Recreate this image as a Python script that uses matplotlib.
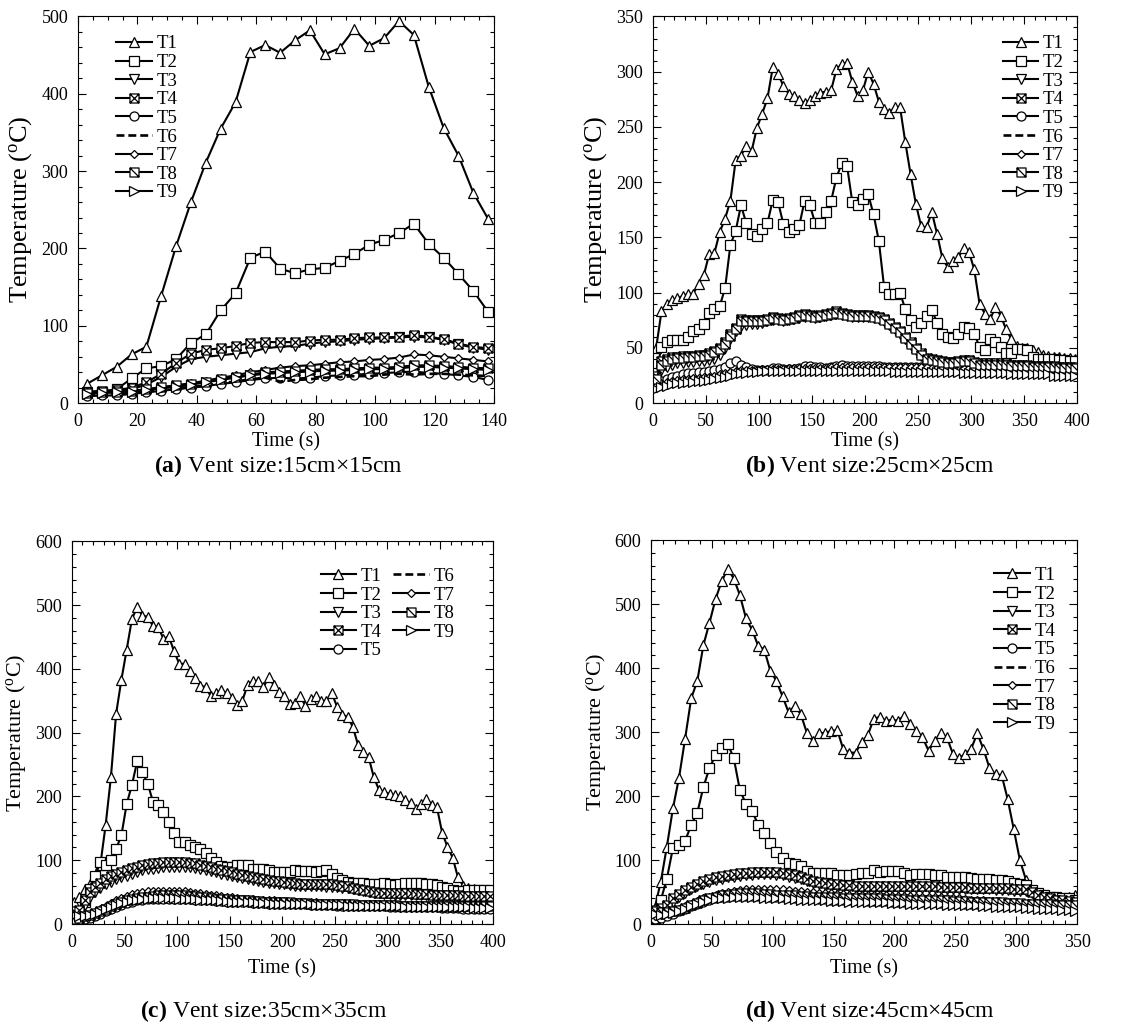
import numpy as np
import matplotlib
matplotlib.use('Agg')
import matplotlib.pyplot as plt
from matplotlib.path import Path
from matplotlib.ticker import MultipleLocator

plt.rcParams['font.family'] = ['Liberation Serif', 'DejaVu Serif']
plt.rcParams['mathtext.fontset'] = 'custom'
plt.rcParams['mathtext.rm'] = 'Liberation Serif'
plt.rcParams['mathtext.it'] = 'Liberation Serif:italic'
plt.rcParams['mathtext.bf'] = 'Liberation Serif:bold'

labels = ['T1', 'T2', 'T3', 'T4', 'T5', 'T6', 'T7', 'T8', 'T9']

# ---------------- (a) vent 15cm x 15cm ----------------
time_a = np.arange(3, 139, 5)
a_T1 = [25, 36, 47, 63, 73, 139, 203, 260, 311, 355, 389, 454, 463, 453, 469, 482, 451, 459, 484, 462,
        472, 494, 476, 409, 356, 320, 272, 238]
a_T2 = [13, 15, 18, 32, 45, 48, 57, 78, 89, 120, 142, 188, 196, 174, 168, 173, 175, 184, 193, 205,
        211, 220, 232, 206, 188, 167, 145, 118]
a_T3 = [14, 15, 16, 18, 24, 34, 47, 57, 60, 62, 64, 66, 71, 73, 74, 77, 79, 80, 82, 83,
        84, 85, 86, 85, 82, 76, 72, 69]
a_T4 = [15, 16, 17, 20, 27, 38, 52, 64, 69, 71, 74, 78, 79, 79, 79, 81, 82, 82, 84, 85,
        85, 86, 88, 86, 83, 77, 73, 71]
a_T5 = [9, 10, 10, 12, 14, 16, 18, 20, 22, 25, 27, 30, 32, 33, 32, 33, 35, 36, 37, 38,
        39, 40, 41, 39, 38, 36, 34, 30]
a_T6 = [12, 12, 13, 14, 15, 17, 19, 21, 23, 26, 28, 31, 33, 28, 30, 31, 33, 34, 35, 35,
        37, 38, 37, 38, 38, 37, 36, 35]
a_T7 = [14, 14, 15, 16, 18, 20, 23, 26, 29, 33, 36, 40, 43, 46, 48, 49, 51, 53, 54, 56,
        57, 59, 63, 62, 60, 58, 56, 54]
a_T8 = [13, 14, 15, 16, 18, 21, 23, 25, 28, 31, 34, 37, 40, 41, 42, 43, 44, 44, 45, 46,
        46, 47, 49, 49, 48, 47, 46, 45]
a_T9 = [12, 13, 14, 15, 17, 19, 21, 24, 27, 30, 33, 36, 38, 39, 40, 41, 42, 42, 43, 44,
        44, 45, 47, 47, 46, 45, 44, 43]

# ---------------- (b) vent 25cm x 25cm ----------------
time_b = np.arange(3, 399, 5)
b_T1 = [50, 83, 90, 93, 95, 97, 99, 99, 108, 116,
        135, 136, 155, 167, 183, 220, 224, 233, 228, 249,
        262, 276, 304, 298, 287, 280, 278, 274, 272, 274,
        278, 281, 282, 283, 302, 307, 308, 291, 278, 283,
        300, 289, 273, 266, 263, 268, 268, 236, 207, 180,
        160, 159, 173, 153, 131, 123, 129, 132, 140, 137,
        121, 90, 81, 76, 87, 79, 67, 58, 52, 50,
        50, 48, 46, 44, 43, 42, 42, 41, 41, 40]
b_T2 = [27, 51, 55, 57, 57, 57, 60, 65, 67, 72,
        82, 85, 88, 104, 143, 156, 179, 163, 153, 151,
        158, 163, 184, 182, 162, 155, 158, 161, 183, 179,
        163, 163, 173, 183, 204, 217, 215, 182, 179, 185,
        189, 171, 147, 105, 99, 99, 100, 85, 75, 69,
        73, 79, 84, 73, 63, 60, 59, 63, 69, 68,
        63, 51, 48, 58, 55, 51, 45, 45, 49, 49,
        48, 42, 40, 40, 40, 40, 39, 39, 38, 38]
b_T3 = [20, 30, 33, 35, 36, 36, 37, 37, 38, 38,
        39, 40, 44, 50, 58, 65, 70, 71, 72, 72,
        73, 74, 75, 75, 74, 75, 76, 77, 78, 78,
        77, 78, 79, 80, 81, 80, 79, 78, 78, 78,
        78, 77, 76, 74, 71, 67, 63, 58, 53, 48,
        43, 40, 38, 37, 36, 36, 36, 37, 38, 38,
        36, 35, 35, 35, 35, 34, 34, 34, 34, 33,
        33, 33, 33, 32, 32, 32, 32, 32, 31, 31]
b_T4 = [25, 38, 40, 42, 42, 43, 43, 43, 44, 44,
        45, 47, 50, 55, 63, 68, 76, 75, 75, 75,
        75, 76, 78, 77, 76, 77, 78, 80, 81, 80,
        79, 80, 81, 82, 83, 82, 81, 80, 80, 80,
        80, 79, 78, 76, 73, 69, 65, 60, 55, 50,
        45, 41, 40, 39, 38, 37, 37, 38, 39, 39,
        37, 36, 36, 36, 36, 36, 36, 35, 35, 35,
        35, 34, 34, 34, 34, 34, 33, 33, 33, 33]
b_T5 = [18, 20, 22, 24, 25, 26, 27, 27, 28, 28,
        29, 30, 31, 33, 36, 38, 35, 33, 31, 30,
        30, 30, 32, 32, 31, 31, 31, 32, 34, 34,
        33, 33, 32, 33, 34, 35, 34, 34, 34, 34,
        34, 34, 34, 33, 33, 33, 33, 33, 33, 33,
        33, 33, 33, 33, 33, 33, 33, 33, 33, 33,
        33, 32, 32, 32, 32, 32, 32, 32, 32, 32,
        32, 32, 31, 31, 31, 31, 31, 30, 30, 30]
b_T6 = [15, 17, 18, 19, 20, 21, 21, 22, 22, 23,
        23, 24, 25, 26, 27, 28, 28, 29, 29, 29,
        29, 30, 30, 30, 30, 30, 30, 30, 31, 31,
        31, 31, 31, 31, 31, 31, 31, 31, 31, 31,
        31, 31, 31, 31, 31, 31, 31, 31, 31, 31,
        31, 31, 31, 30, 30, 30, 30, 30, 30, 30,
        30, 30, 30, 30, 30, 30, 29, 29, 29, 29,
        29, 29, 29, 29, 28, 28, 28, 28, 28, 28]
b_T7 = [16, 18, 19, 20, 21, 22, 22, 23, 23, 24,
        24, 25, 26, 27, 28, 29, 30, 30, 30, 30,
        31, 31, 31, 31, 31, 32, 32, 32, 32, 32,
        32, 32, 32, 33, 33, 33, 33, 33, 33, 33,
        33, 33, 33, 33, 33, 33, 33, 33, 33, 33,
        33, 33, 32, 32, 32, 32, 32, 32, 32, 32,
        32, 32, 32, 31, 31, 31, 31, 31, 31, 31,
        31, 31, 30, 30, 30, 30, 30, 30, 29, 29]
b_T8 = [22, 35, 38, 40, 41, 41, 42, 42, 43, 43,
        44, 46, 49, 54, 61, 67, 74, 74, 74, 74,
        74, 75, 77, 76, 75, 76, 77, 79, 80, 79,
        78, 79, 80, 81, 82, 81, 80, 79, 79, 79,
        79, 78, 77, 75, 72, 68, 64, 59, 54, 49,
        44, 40, 39, 38, 37, 36, 36, 37, 38, 38,
        36, 35, 35, 35, 35, 35, 35, 34, 34, 34,
        34, 33, 33, 33, 33, 33, 32, 32, 32, 32]
b_T9 = [13, 15, 16, 17, 18, 18, 19, 19, 20, 20,
        21, 22, 23, 24, 25, 26, 27, 27, 28, 28,
        29, 29, 29, 29, 29, 29, 29, 29, 29, 29,
        29, 29, 29, 29, 29, 29, 29, 29, 29, 29,
        29, 29, 29, 29, 29, 28, 28, 28, 28, 28,
        28, 28, 28, 28, 28, 28, 28, 28, 27, 27,
        27, 27, 27, 27, 27, 27, 27, 26, 26, 26,
        26, 26, 26, 26, 26, 25, 25, 25, 25, 25]

# ---------------- (c) vent 35cm x 35cm ----------------
time_c = np.arange(2, 398, 5)
c_T1 = [35, 42, 55, 62, 75, 93, 155, 230, 330, 383,
        430, 478, 497, 483, 482, 467, 466, 447, 451, 428,
        408, 408, 396, 386, 373, 372, 357, 362, 367, 362,
        355, 343, 350, 375, 381, 381, 371, 387, 374, 363,
        357, 345, 346, 357, 342, 352, 357, 349, 350, 362,
        341, 328, 325, 309, 281, 270, 262, 230, 210, 207,
        204, 202, 201, 194, 190, 180, 188, 196, 186, 183,
        143, 121, 104, 73, 60, 57, 55, 54, 53, 52]
c_T2 = [12, 18, 35, 55, 75, 97, 92, 100, 118, 139,
        188, 218, 255, 238, 220, 192, 186, 176, 160, 142,
        129, 129, 124, 121, 117, 112, 104, 98, 91, 90,
        90, 92, 93, 93, 87, 87, 86, 85, 82, 81,
        82, 82, 85, 83, 83, 83, 82, 83, 84, 78,
        72, 69, 66, 65, 64, 64, 63, 63, 63, 64,
        63, 61, 62, 64, 65, 65, 64, 63, 62, 61,
        58, 56, 54, 52, 52, 53, 53, 53, 54, 54]
c_T3 = [15, 18, 30, 42, 50, 57, 62, 66, 70, 73,
        76, 79, 82, 84, 86, 87, 88, 89, 90, 90,
        90, 90, 89, 88, 87, 85, 83, 81, 79, 77,
        75, 73, 72, 70, 69, 67, 66, 65, 64, 63,
        62, 61, 60, 60, 59, 59, 59, 59, 58, 58,
        58, 57, 56, 55, 53, 52, 50, 49, 48, 47,
        47, 46, 46, 46, 46, 45, 45, 45, 45, 44,
        44, 44, 43, 43, 43, 42, 42, 42, 42, 42]
c_T4 = [20, 22, 38, 50, 58, 65, 70, 75, 78, 82,
        85, 88, 90, 92, 94, 95, 96, 97, 97, 97,
        97, 97, 96, 95, 93, 91, 89, 87, 85, 83,
        81, 79, 77, 75, 73, 72, 70, 69, 68, 67,
        66, 65, 64, 63, 63, 62, 62, 62, 62, 62,
        61, 60, 59, 57, 55, 54, 52, 50, 49, 49,
        48, 48, 48, 48, 48, 47, 47, 47, 46, 46,
        46, 45, 45, 45, 44, 44, 44, 44, 44, 44]
c_T5 = [5, 6, 8, 10, 13, 16, 20, 24, 27, 30,
        33, 35, 37, 38, 39, 40, 40, 40, 40, 40,
        40, 39, 39, 38, 38, 37, 37, 36, 36, 35,
        35, 34, 34, 34, 33, 33, 33, 32, 32, 32,
        32, 31, 31, 31, 31, 30, 30, 30, 30, 30,
        29, 29, 29, 29, 29, 28, 28, 28, 28, 28,
        27, 27, 27, 27, 27, 26, 26, 26, 26, 26,
        25, 25, 25, 25, 24, 24, 24, 24, 23, 23]
c_T6 = [6, 7, 9, 11, 14, 17, 21, 25, 28, 31,
        34, 36, 37, 38, 39, 39, 40, 40, 40, 40,
        39, 39, 38, 38, 37, 37, 36, 36, 35, 35,
        34, 34, 34, 33, 33, 33, 32, 32, 32, 32,
        31, 31, 31, 31, 31, 30, 30, 30, 30, 30,
        30, 29, 29, 29, 29, 29, 28, 28, 28, 28,
        28, 28, 27, 27, 27, 27, 27, 27, 26, 26,
        26, 26, 26, 26, 26, 25, 25, 25, 25, 25]
c_T7 = [10, 12, 14, 16, 19, 23, 28, 33, 37, 41,
        44, 47, 49, 50, 51, 52, 52, 52, 52, 52,
        51, 51, 50, 49, 48, 47, 46, 45, 44, 43,
        42, 41, 40, 40, 39, 38, 38, 37, 37, 36,
        36, 35, 35, 35, 34, 34, 34, 33, 33, 33,
        33, 33, 32, 32, 32, 32, 31, 31, 31, 31,
        31, 31, 30, 30, 30, 30, 30, 30, 30, 29,
        29, 29, 29, 29, 29, 29, 28, 28, 28, 28]
c_T8 = [8, 10, 12, 14, 17, 20, 24, 28, 31, 34,
        37, 39, 41, 42, 43, 44, 45, 45, 45, 45,
        45, 45, 44, 44, 43, 42, 41, 40, 40, 39,
        38, 38, 37, 37, 36, 36, 35, 35, 35, 34,
        34, 34, 33, 33, 33, 32, 32, 32, 32, 32,
        31, 31, 31, 31, 30, 30, 30, 30, 30, 30,
        30, 30, 29, 29, 29, 29, 29, 29, 29, 29,
        29, 28, 28, 28, 28, 28, 28, 28, 28, 28]
c_T9 = [14, 13, 13, 14, 16, 19, 23, 27, 30, 33,
        35, 37, 38, 39, 40, 41, 41, 41, 41, 41,
        40, 40, 39, 39, 38, 38, 37, 37, 36, 36,
        35, 35, 34, 34, 34, 33, 33, 33, 32, 32,
        32, 32, 31, 31, 31, 31, 30, 30, 30, 30,
        30, 30, 29, 29, 29, 29, 29, 28, 28, 28,
        28, 28, 28, 27, 27, 27, 27, 27, 27, 27,
        26, 26, 26, 26, 26, 26, 25, 25, 25, 25]

# ---------------- (d) vent 45cm x 45cm ----------------
time_d = np.arange(3, 350, 5)
d_T1 = [25, 66, 121, 181, 229, 290, 353, 380, 436, 471,
        508, 536, 555, 540, 514, 478, 460, 435, 429, 396,
        380, 356, 331, 341, 328, 299, 286, 298, 299, 302,
        303, 273, 268, 268, 284, 295, 321, 324, 318, 319,
        318, 326, 312, 302, 292, 271, 286, 299, 292, 266,
        259, 266, 274, 298, 274, 244, 234, 233, 195, 148,
        100, 69, 53, 45, 43, 40, 38, 40, 43, 45]
d_T2 = [10, 37, 71, 119, 123, 130, 155, 174, 214, 244,
        264, 275, 282, 259, 209, 188, 177, 155, 142, 126,
        113, 103, 96, 94, 90, 83, 80, 79, 80, 79,
        77, 76, 76, 78, 80, 80, 84, 82, 83, 83,
        83, 79, 77, 78, 78, 78, 77, 76, 74, 73,
        74, 74, 72, 71, 71, 70, 69, 69, 67, 64,
        62, 61, 53, 49, 45, 43, 42, 40, 40, 38]
d_T3 = [18, 21, 26, 35, 42, 48, 54, 59, 63, 66,
        69, 71, 73, 74, 75, 76, 77, 78, 78, 78,
        77, 76, 74, 72, 70, 67, 64, 62, 61, 60,
        59, 58, 58, 57, 57, 57, 57, 57, 57, 57,
        57, 57, 56, 56, 56, 56, 56, 55, 55, 55,
        55, 55, 54, 54, 54, 54, 53, 53, 53, 52,
        52, 52, 48, 44, 41, 38, 36, 35, 34, 33]
d_T4 = [22, 25, 30, 40, 47, 53, 58, 63, 67, 70,
        73, 75, 77, 78, 79, 80, 81, 82, 82, 82,
        81, 80, 78, 76, 73, 70, 67, 65, 64, 63,
        62, 61, 61, 60, 60, 60, 60, 60, 60, 60,
        60, 60, 59, 59, 59, 59, 59, 58, 58, 58,
        58, 58, 57, 57, 57, 57, 56, 56, 56, 55,
        55, 55, 50, 46, 43, 40, 38, 37, 36, 35]
d_T5 = [8, 10, 13, 16, 20, 24, 28, 32, 35, 38,
        40, 42, 43, 44, 44, 44, 44, 44, 44, 43,
        43, 42, 42, 41, 41, 40, 40, 39, 39, 38,
        38, 38, 37, 37, 37, 36, 36, 36, 36, 35,
        35, 35, 35, 34, 34, 34, 34, 33, 33, 33,
        33, 32, 32, 32, 31, 31, 31, 30, 30, 30,
        29, 29, 28, 28, 27, 27, 26, 26, 25, 25]
d_T6 = [10, 11, 13, 16, 19, 23, 27, 30, 33, 36,
        38, 39, 40, 41, 41, 41, 41, 41, 41, 40,
        40, 39, 39, 38, 38, 37, 37, 36, 36, 36,
        35, 35, 35, 34, 34, 34, 34, 33, 33, 33,
        33, 32, 32, 32, 32, 31, 31, 31, 31, 30,
        30, 30, 30, 29, 29, 29, 28, 28, 28, 28,
        27, 27, 27, 26, 26, 26, 25, 25, 25, 24]
d_T7 = [12, 14, 17, 20, 24, 28, 32, 36, 40, 43,
        46, 48, 50, 52, 53, 54, 55, 55, 55, 55,
        54, 54, 53, 52, 51, 50, 50, 49, 48, 48,
        47, 47, 46, 46, 46, 45, 45, 45, 45, 44,
        44, 44, 44, 43, 43, 43, 42, 42, 41, 40,
        40, 39, 38, 38, 37, 36, 36, 35, 35, 34,
        33, 32, 31, 30, 29, 28, 27, 26, 25, 24]
d_T8 = [20, 19, 19, 20, 22, 25, 29, 33, 37, 40,
        43, 45, 46, 47, 48, 48, 48, 48, 47, 47,
        46, 46, 45, 45, 44, 44, 43, 43, 42, 42,
        42, 41, 41, 41, 40, 40, 40, 40, 39, 39,
        39, 39, 38, 38, 38, 38, 37, 37, 37, 36,
        36, 36, 35, 35, 35, 34, 34, 34, 33, 33,
        33, 32, 32, 31, 31, 31, 30, 30, 30, 29]
d_T9 = [15, 14, 15, 17, 20, 24, 28, 31, 34, 37,
        39, 40, 41, 42, 42, 42, 42, 42, 41, 41,
        40, 40, 39, 39, 38, 38, 37, 37, 37, 36,
        36, 36, 35, 35, 35, 34, 34, 34, 34, 33,
        33, 33, 32, 32, 32, 31, 31, 31, 30, 30,
        30, 29, 29, 29, 28, 28, 27, 27, 27, 26,
        26, 25, 25, 24, 24, 23, 23, 22, 22, 21]

# open square with an X, and open square with one diagonal
crossed_square = Path([(-1, -1), (1, -1), (1, 1), (-1, 1), (-1, -1), (-1, -1), (1, 1), (-1, 1), (1, -1)],
                      [Path.MOVETO, Path.LINETO, Path.LINETO, Path.LINETO, Path.CLOSEPOLY,
                       Path.MOVETO, Path.LINETO, Path.MOVETO, Path.LINETO])
slashed_square = Path([(-1, -1), (1, -1), (1, 1), (-1, 1), (-1, -1), (-1, 1), (1, -1)],
                      [Path.MOVETO, Path.LINETO, Path.LINETO, Path.LINETO, Path.CLOSEPOLY,
                       Path.MOVETO, Path.LINETO])

markers = ['^', 's', 'v', crossed_square, 'o', None, 'D', slashed_square, '>']
msizes = [6.5, 6.5, 6.5, 6.5, 6.5, 0, 4.5, 6.5, 6.5]


def draw_panel(ax, t, series, xmax, ymax, xmaj, xmin, ymaj, ymin, ylab_size, xlab_pad, legend_kw):
    for i, y in enumerate(series):
        if markers[i] is None:
            ax.plot(t, y, color='black', lw=1.9, ls=(0, (3, 1.5)), label=labels[i])
        else:
            ax.plot(t, y, color='black', lw=1.5, marker=markers[i], ms=msizes[i],
                    mfc='white', mec='black', mew=0.9, label=labels[i])
    ax.set_xlim(0, xmax)
    ax.set_ylim(0, ymax)
    ax.xaxis.set_major_locator(MultipleLocator(xmaj))
    ax.xaxis.set_minor_locator(MultipleLocator(xmin))
    ax.yaxis.set_major_locator(MultipleLocator(ymaj))
    ax.yaxis.set_minor_locator(MultipleLocator(ymin))
    ax.tick_params(which='both', direction='in', top=True, right=True, labelsize=13)
    ax.tick_params(which='major', length=6, width=0.8, pad=7)
    ax.tick_params(which='minor', length=3, width=0.8)
    ax.set_xlabel('Time (s)', fontsize=14.5, labelpad=xlab_pad)
    ax.set_ylabel(r'Temperature ($^{\mathrm{o}}$C)', fontsize=ylab_size, labelpad=5)
    ax.legend(frameon=False, fontsize=13.5, handlelength=1.9, labelspacing=0.08,
              handletextpad=0.25, borderaxespad=0.3, **legend_kw)


fig = plt.figure(figsize=(11.37, 10.26), dpi=100)
ax_a = fig.add_axes([0.0686, 0.607, 0.366, 0.377])
ax_b = fig.add_axes([0.5743, 0.607, 0.373, 0.377])
ax_c = fig.add_axes([0.0633, 0.0994, 0.370, 0.373])
ax_d = fig.add_axes([0.5726, 0.0994, 0.3747, 0.374])

draw_panel(ax_a, time_a, [a_T1, a_T2, a_T3, a_T4, a_T5, a_T6, a_T7, a_T8, a_T9],
           140, 500, 20, 5, 100, 20, 19, 2, dict(loc='upper left', bbox_to_anchor=(0.06, 0.985)))
draw_panel(ax_b, time_b, [b_T1, b_T2, b_T3, b_T4, b_T5, b_T6, b_T7, b_T8, b_T9],
           400, 350, 50, 10, 50, 10, 19, 2, dict(loc='upper right', bbox_to_anchor=(1.0, 0.985)))
draw_panel(ax_c, time_c, [c_T1, c_T2, c_T3, c_T4, c_T5, c_T6, c_T7, c_T8, c_T9],
           400, 600, 50, 10, 100, 20, 16, 6, dict(loc='upper right', bbox_to_anchor=(0.94, 0.965),
                                                   ncol=2, columnspacing=0.6))
draw_panel(ax_d, time_d, [d_T1, d_T2, d_T3, d_T4, d_T5, d_T6, d_T7, d_T8, d_T9],
           350, 600, 50, 10, 100, 20, 16, 6, dict(loc='upper right', bbox_to_anchor=(0.98, 0.965)))

fig.text(0.245, 0.546, r'$\mathbf{(a)}$ Vent size:15cm×15cm', ha='center', va='center', fontsize=17)
fig.text(0.765, 0.546, r'$\mathbf{(b)}$ Vent size:25cm×25cm', ha='center', va='center', fontsize=17)
fig.text(0.232, 0.015, r'$\mathbf{(c)}$ Vent size:35cm×35cm', ha='center', va='center', fontsize=17)
fig.text(0.765, 0.015, r'$\mathbf{(d)}$ Vent size:45cm×45cm', ha='center', va='center', fontsize=17)

fig.savefig('out.png', dpi=100)
